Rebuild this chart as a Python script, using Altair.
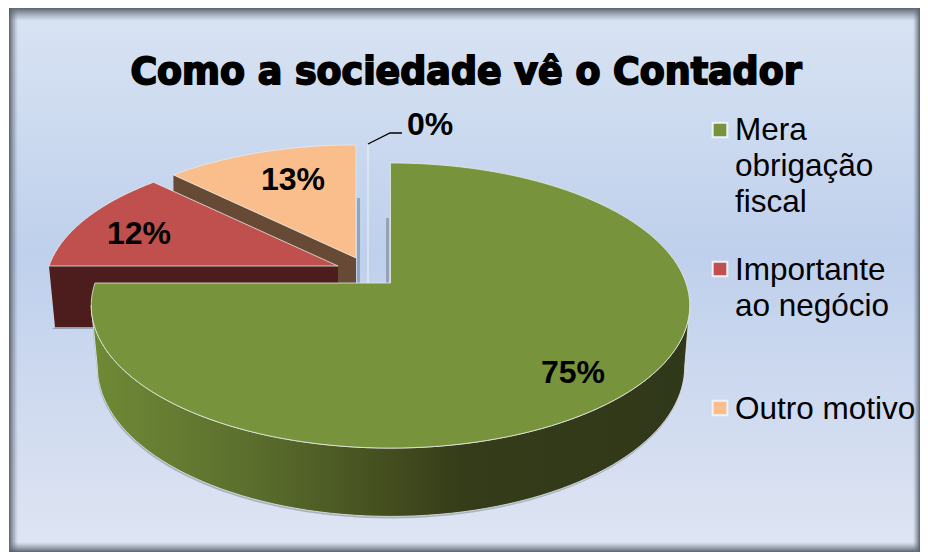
import math
import altair as alt
import pandas as pd

categories = ["Mera obrigação fiscal", "Importante ao negócio", "Outro motivo", "Sem resposta"]
shares = [75, 12.45, 12.55, 0]
top_colors = ["#77933c", "#c0504d", "#f9be8c"]
legend_lines = [["Mera", "obrigação", "fiscal"], ["Importante", "ao negócio"], ["Outro motivo"]]
legend_first_y = [131, 271, 410]
legend_square_y = [130, 269, 408]
title_text = "Como a sociedade vê o Contador"

W, H = 912, 544
OFF = 8                # page margin
K = 0.158              # perspective of the tilted plane
TOL = "#e6ebe6"

# slice anchor, radii in the image's pixels: (ax, ay, R, S)
GREEN = (390.5, 283, 295.5, 139)
GREEN_LOW = (391, 343, 290, 146)
RED = (338, 266, 289, 132)
PEACH = (356, 258, 286, 131)
ZERO_X = 368
DEPTH = 60


def rim(p, deg):
    ax, ay, r, s = p
    t = math.radians(deg)
    X, Y = math.sin(t), math.cos(t)
    w = 1 + K * Y
    return (ax + r * X / w - OFF, ay - s * Y / w - OFF)


def sweep(p, a, b, step=2.0):
    n = max(1, int(abs(b - a) / step))
    return [rim(p, a + (b - a) * i / n) for i in range(n + 1)]


def shift(p):
    return (p[0] - OFF, p[1] - OFF)


def poly(points):
    pts = [list(q) for q in points]
    pts.append(pts[0])
    return alt.Data(values=[{"type": "Feature", "properties": {},
                             "geometry": {"type": "Polygon", "coordinates": [pts]}}])


def shape(points, **kw):
    return alt.Chart(poly(points)).mark_geoshape(**kw).project(type="identity", scale=1, translate=[0, 0])


def grad(x1, y1, x2, y2, stops):
    return alt.Gradient(gradient="linear", x1=x1, y1=y1, x2=x2, y2=y2,
                        stops=[alt.GradientStop(offset=o, color=c) for o, c in stops])


# slice angles from the shares (clockwise from 12 o'clock)
a0 = 0.0
a1 = a0 + shares[0] * 3.6
a2 = a1 + shares[1] * 3.6
a3 = a2 + shares[2] * 3.6

layers = []

# panel background and its inner edge shadows
box = [(1, 0), (W, 0), (W, H), (1, H)]
layers.append(shape(box, strokeWidth=0,
                    fill=grad(0, 0, 0, 1, [(0, "#d9e4f3"), (0.45, "#bfd0ec"), (1, "#dfe5f3")])))
SH = "rgba(85,92,104,0.95)"
NO = "rgba(120,130,145,0)"
layers.append(shape([(1, 0), (W, 0), (W, 13), (1, 13)], strokeWidth=0, fill=grad(0, 0, 0, 1, [(0, SH), (1, NO)])))
layers.append(shape([(1, 0), (10, 0), (10, H), (1, H)], strokeWidth=0, fill=grad(0, 0, 1, 0, [(0, SH), (1, NO)])))
layers.append(shape([(1, H - 10), (W, H - 10), (W, H), (1, H)], strokeWidth=0, fill=grad(0, 0, 0, 1, [(0, NO), (1, SH)])))
layers.append(shape([(W - 7, 0), (W, 0), (W, H), (W - 7, H)], strokeWidth=0, fill=grad(0, 0, 1, 0, [(0, NO), (1, SH)])))

# 0% slice: a bare line, and its leader
layers.append(shape([shift((ZERO_X - 0.5, 145)), shift((ZERO_X + 0.5, 145)),
                     shift((ZERO_X + 0.5, 283)), shift((ZERO_X - 0.5, 283))],
                    fill="#eef3fa", strokeWidth=0))
leader = pd.DataFrame({"x": [v - OFF for v in (368, 390, 402)],
                       "y": [v - OFF for v in (144, 133, 133)], "o": [0, 1, 2]})
layers.append(alt.Chart(leader).mark_line(color="black", strokeWidth=1.3).encode(
    x=alt.X("x:Q", scale=None), y=alt.Y("y:Q", scale=None), order="o:Q"))

# faint cast shadows beside the cut faces
layers.append(shape([shift((357, 198)), shift((360, 198)), shift((360, 283)), shift((357, 283))],
                    fill="#6f7c90", opacity=0.55, strokeWidth=0))
layers.append(shape([shift((386, 218)), shift((389, 218)), shift((389, 283)), shift((386, 283))],
                    fill="#6f7c90", opacity=0.55, strokeWidth=0))

# peach slice: cut face, then top
p_c = rim(PEACH, a2)
p_a = shift(PEACH[:2])
layers.append(shape([p_c, p_a, (p_a[0], p_a[1] + DEPTH), (p_c[0], p_c[1] + DEPTH)], fill="#664a36", strokeWidth=0))
layers.append(shape([p_a] + sweep(PEACH, a2, a3), fill=top_colors[2], stroke=TOL, strokeWidth=0.8))

# red slice: front face, then top
r_l = rim(RED, a1)
r_a = shift(RED[:2])
layers.append(shape([(r_l[0] + 6, r_l[1] + 61), (r_a[0], r_a[1] + 61), (r_a[0], r_a[1] + 62), (r_l[0] + 3, r_l[1] + 63)],
                    fill="#6f7c90", opacity=0.6, strokeWidth=0))
layers.append(shape([r_l, r_a, (r_a[0], r_a[1] + 61), (r_l[0] + 6, r_l[1] + 61)], fill="#4d1d1d", strokeWidth=0))
layers.append(shape([r_a] + sweep(RED, a1, a2), fill=top_colors[1], stroke=TOL, strokeWidth=0.8))

# green slice: shadow, rounded side with shading, top
sil = math.degrees(math.asin(K))
side = sweep(GREEN, 90 + sil, 270 - sil) + sweep(GREEN_LOW, 270 - sil, 90 + sil)
layers.append(shape([(x - 0.5, y + 2) for x, y in side], fill="#5c6678", opacity=0.4, strokeWidth=0))
layers.append(shape(side, stroke=TOL, strokeWidth=0.8,
                    fill=grad(0, 0, 1, 0, [(0, "#6f8a36"), (0.27, "#5b6e2d"), (0.5, "#434d1e"),
                                           (0.62, "#343c19"), (1, "#30381a")])))
g_a = shift(GREEN[:2])
layers.append(shape([g_a] + sweep(GREEN, a0, a1), fill=top_colors[0], stroke=TOL, strokeWidth=0.8))

# value labels
labels = pd.DataFrame({
    "t": [f"{round(v)}%" for v in shares],
    "x": [v - OFF for v in (573, 139, 293, 430)],
    "y": [v - OFF for v in (373, 234, 180, 125)],
})
layers.append(alt.Chart(labels).mark_text(font="Liberation Sans", fontWeight="bold", fontSize=32,
                                          color="black", align="center", baseline="middle").encode(
    x=alt.X("x:Q", scale=None), y=alt.Y("y:Q", scale=None), text="t:N"))

# legend
sq = pd.DataFrame({"x": [720 - OFF] * 3, "y": [y - OFF for y in legend_square_y], "c": categories[:3]})
layers.append(alt.Chart(sq).mark_square(size=215, opacity=1, filled=True, stroke="#eef2f8", strokeWidth=2).encode(
    x=alt.X("x:Q", scale=None), y=alt.Y("y:Q", scale=None),
    fill=alt.Fill("c:N", scale=alt.Scale(domain=categories[:3], range=top_colors), legend=None)))
rows = []
for lines, y0 in zip(legend_lines, legend_first_y):
    for i, line in enumerate(lines):
        rows.append({"t": line, "x": 735 - OFF, "y": y0 + 36 * i - OFF})
layers.append(alt.Chart(pd.DataFrame(rows)).mark_text(font="Liberation Sans", fontSize=31.5, color="black",
                                                      align="left", baseline="middle").encode(
    x=alt.X("x:Q", scale=None), y=alt.Y("y:Q", scale=None), text="t:N"))

# title
title = pd.DataFrame({"t": [title_text], "x": [466 - OFF], "y": [73 - OFF]})
layers.append(alt.Chart(title).mark_text(font="DejaVu Sans", fontWeight="bold", fontSize=36.4, color="black",
                                         stroke="black", strokeWidth=1.8, align="center", baseline="middle").encode(
    x=alt.X("x:Q", scale=None), y=alt.Y("y:Q", scale=None), text="t:N"))

chart = alt.layer(*layers).properties(width=W, height=H, padding=0, autosize="none", background="white").configure_view(stroke=None)
chart.save("out.html", embed_options={"renderer": "svg", "actions": False})
